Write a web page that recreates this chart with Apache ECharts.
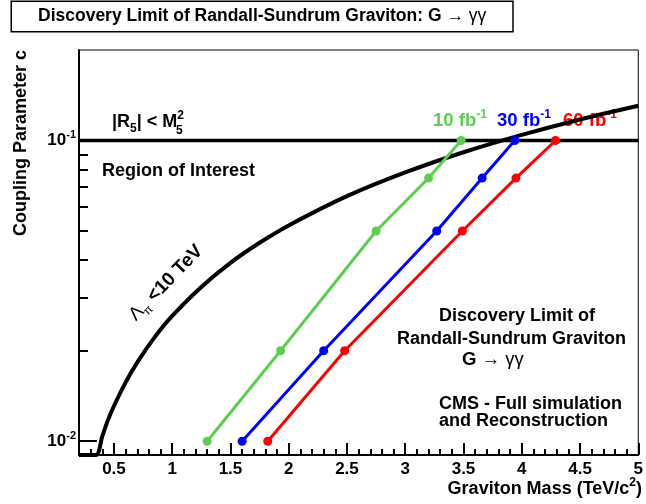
<!DOCTYPE html>
<html>
<head>
<meta charset="utf-8">
<script src="https://cdn.jsdelivr.net/npm/echarts@6/dist/echarts.min.js"></script>
<style>
html,body{margin:0;padding:0;background:#fff;}
#chart{width:646px;height:504px;}
</style>
</head>
<body>
<div id="chart"></div>
<script>
// ---- data ----
const mass10 = [1.30, 1.93, 2.75, 3.20, 3.48];
const coup10 = [0.010, 0.020, 0.050, 0.075, 0.100];
const mass30 = [1.60, 2.30, 3.27, 3.66, 3.94];
const coup30 = [0.010, 0.020, 0.050, 0.075, 0.100];
const mass60 = [1.82, 2.48, 3.49, 3.95, 4.29];
const coup60 = [0.010, 0.020, 0.050, 0.075, 0.100];
// Lambda_pi < 10 TeV contour
const lambdaMass = [0.20, 0.345, 0.40, 0.45, 0.50, 0.60, 0.70, 0.85, 1.00, 1.25, 1.50, 1.75, 2.00, 2.50, 3.00, 3.50, 4.00, 4.50, 5.00];
const lambdaCoup = [0.009, 0.009, 0.0104, 0.0118, 0.0131, 0.0157, 0.0183, 0.0222, 0.0261, 0.0326, 0.0392, 0.0457, 0.0522, 0.0653, 0.0783, 0.0914, 0.1044, 0.1175, 0.1305];
// |R5| < M5^2 limit
const limitMass = [0.2, 5.0];
const limitCoup = [0.1, 0.1];
// axes
const xMin = 0.2, xMax = 5.0, yMin = 0.009, yMax = 0.2;
const xMajorTicks = [0.5, 1, 1.5, 2, 2.5, 3, 3.5, 4, 4.5, 5];
const xMinorTicks = [];
for (let i = 3; i < 50; i++) { if (i % 5 !== 0) xMinorTicks.push(i / 10); }
const yMajorTicks = [0.01, 0.1];
const yMajorExp = {'0.01': '-2', '0.1': '-1'};
const yMinorTicks = [0.02, 0.03, 0.04, 0.05, 0.06, 0.07, 0.08, 0.09];

const FONT = '"Liberation Sans", Arial, Helvetica, sans-serif';
const GREEN = '#5ccf50', BLUE = '#0000ff', RED = '#ff0000';

function pairs(xs, ys) { return xs.map((x, i) => [x, ys[i]]); }

const chart = echarts.init(document.getElementById('chart'), null, {renderer: 'canvas'});

function richBase(size) {
  return {
    b: {fontFamily: FONT, fontWeight: 'bold', fontSize: size, lineHeight: 25, verticalAlign: 'middle'},
    n: {fontFamily: FONT, fontWeight: 'normal', fontSize: size, lineHeight: 25, verticalAlign: 'middle'},
    sup: {fontFamily: FONT, fontWeight: 'bold', fontSize: 12, lineHeight: 12, verticalAlign: 'top'},
    sub: {fontFamily: FONT, fontWeight: 'bold', fontSize: 12, lineHeight: 12, verticalAlign: 'bottom'},
    nsub: {fontFamily: FONT, fontWeight: 'normal', fontSize: 12, lineHeight: 12, verticalAlign: 'bottom'}
  };
}
function txt(x, y, text, opts) {
  opts = opts || {};
  const rich = richBase(opts.size || 18.5);
  if (opts.color) Object.keys(rich).forEach(k => rich[k].color = opts.color);
  return {
    type: 'text', x: x, y: y, rotation: opts.rotation || 0, z: 0,
    style: {
      text: text, rich: rich, fill: opts.color || '#000',
      align: opts.align || 'left', verticalAlign: opts.valign || 'middle',
      font: 'bold 18px ' + FONT
    }
  };
}

const option = {
  animation: false,
  backgroundColor: '#fff',
  grid: {left: 79, right: 3, top: 50, bottom: 49, show: true, borderColor: '#000', borderWidth: 1, backgroundColor: 'transparent'},
  xAxis: [
    {
      type: 'value', min: xMin, max: xMax, position: 'bottom',
      axisLine: {show: true, onZero: false, lineStyle: {color: '#000', width: 2}},
      axisTick: {show: true, inside: true, length: 12, customValues: xMajorTicks, lineStyle: {color: '#000', width: 2}},
      axisLabel: {show: true, customValues: xMajorTicks, margin: 6, color: '#000', fontFamily: FONT, fontWeight: 'bold', fontSize: 17,
        formatter: v => String(v)},
      splitLine: {show: false}
    },
    {
      type: 'value', min: xMin, max: xMax, position: 'bottom',
      axisLine: {show: false, onZero: false},
      axisTick: {show: true, inside: true, length: 6, customValues: xMinorTicks, lineStyle: {color: '#000', width: 2}},
      axisLabel: {show: false},
      splitLine: {show: false}
    }
  ],
  yAxis: [
    {
      type: 'log', logBase: 10, min: yMin, max: yMax, position: 'left',
      axisLine: {show: true, onZero: false, lineStyle: {color: '#000', width: 2}},
      axisTick: {show: true, inside: true, length: 18, customValues: yMajorTicks, lineStyle: {color: '#000', width: 2}},
      axisLabel: {show: true, customValues: yMajorTicks, margin: 3, color: '#000',
        formatter: v => '{b|10}{s|' + yMajorExp[String(Math.round(v * 100) / 100)] + '}',
        rich: {
          b: {fontFamily: FONT, fontWeight: 'bold', fontSize: 17, lineHeight: 22, verticalAlign: 'middle', color: '#000'},
          s: {fontFamily: FONT, fontWeight: 'bold', fontSize: 11, lineHeight: 11, verticalAlign: 'top', color: '#000'}
        }},
      splitLine: {show: false}
    },
    {
      type: 'log', logBase: 10, min: yMin, max: yMax, position: 'left',
      axisLine: {show: false, onZero: false},
      axisTick: {show: true, inside: true, length: 9, customValues: yMinorTicks, lineStyle: {color: '#000', width: 2}},
      axisLabel: {show: false},
      splitLine: {show: false}
    }
  ],
  series: [
    {name: 'limit', type: 'line', data: pairs(limitMass, limitCoup), showSymbol: false, symbol: 'none',
      lineStyle: {color: '#000', width: 3.5}, z: 3},
    {name: 'Lambda', type: 'line', data: pairs(lambdaMass, lambdaCoup), showSymbol: false, symbol: 'none', smooth: 0.3,
      lineStyle: {color: '#000', width: 4}, z: 3},
    {name: '10 fb-1', type: 'line', data: pairs(mass10, coup10), symbol: 'circle', symbolSize: 9,
      lineStyle: {color: GREEN, width: 3}, itemStyle: {color: GREEN}, z: 4},
    {name: '30 fb-1', type: 'line', data: pairs(mass30, coup30), symbol: 'circle', symbolSize: 9,
      lineStyle: {color: BLUE, width: 3}, itemStyle: {color: BLUE}, z: 4},
    {name: '60 fb-1', type: 'line', data: pairs(mass60, coup60), symbol: 'circle', symbolSize: 9,
      lineStyle: {color: RED, width: 3}, itemStyle: {color: RED}, z: 4}
  ],
  graphic: [
    // title box
    {type: 'text', x: 12, y: 2, z: 0, style: {
      text: '{b|Discovery Limit of Randall-Sundrum Graviton: G }{n|→ γγ}',
      rich: richBase(17.5), align: 'left', verticalAlign: 'top',
      backgroundColor: '#fff', borderColor: '#000', borderWidth: 1.5, padding: [2, 26, 2, 26]}},
    // axis titles
    txt(21, 50, 'Coupling Parameter c', {rotation: Math.PI / 2, align: 'right'}),
    txt(642, 489, '{b|Graviton Mass (TeV/c}{sup|2}{b|)}', {align: 'right', size: 18}),
    // annotations
    txt(112, 122, '{b||R}{sub|5}{b|| < M}{sup|2}', {size: 18}),
    txt(176, 131, '{sub|5}'),
    txt(102, 171, 'Region of Interest'),
    txt(433, 121, '{b|10 fb}{sup|-1}', {color: GREEN}),
    txt(497, 121, '{b|30 fb}{sup|-1}', {color: BLUE}),
    txt(563, 121, '{b|60 fb}{sup|-1}', {color: RED}),
    txt(439, 316, 'Discovery Limit of'),
    txt(397, 339, 'Randall-Sundrum Graviton'),
    txt(462, 360, '{b|G }{n|→ γγ}'),
    txt(439, 404, 'CMS - Full simulation'),
    txt(439, 421, 'and Reconstruction'),
    txt(166, 283, '{n|Λ}{nsub|π}{b| <10 TeV}', {rotation: 46 * Math.PI / 180, align: 'center', size: 19})
  ]
};
chart.setOption(option);
</script>
</body>
</html>
